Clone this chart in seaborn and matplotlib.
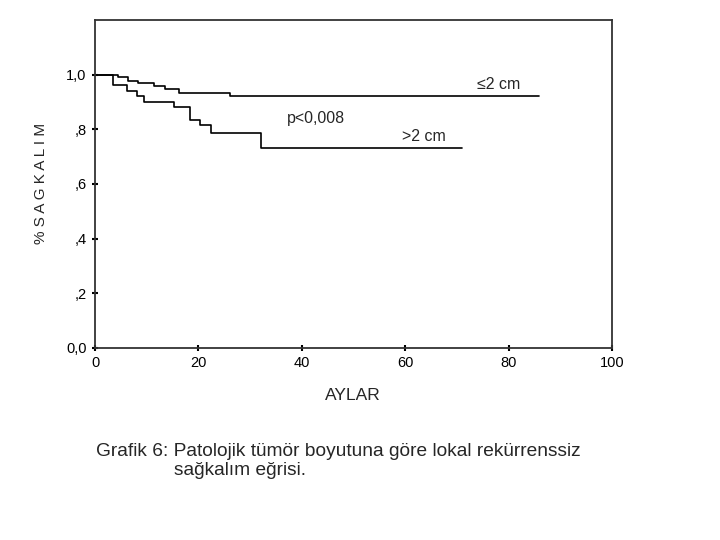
import matplotlib
matplotlib.use("Agg")
import matplotlib.pyplot as plt
import seaborn as sns

# Kaplan-Meier steps (months, survival)
small_months = [0, 4.4, 6.3, 8.4, 11.4, 13.5, 16.2, 26.2, 85.9]
small_surv = [1.0, 0.990, 0.976, 0.969, 0.958, 0.946, 0.934, 0.923, 0.923]
large_months = [0, 3.4, 6.2, 8.2, 9.4, 15.2, 18.3, 20.3, 22.4, 32.1, 70.9]
large_surv = [1.0, 0.961, 0.941, 0.922, 0.901, 0.881, 0.835, 0.814, 0.787, 0.731, 0.731]

x_ticks = [0, 20, 40, 60, 80, 100]
y_ticks = [0.0, 0.2, 0.4, 0.6, 0.8, 1.0]
y_tick_labels = ["0,0", ",2", ",4", ",6", ",8", "1,0"]

sns.set_style("white")
plt.rcParams["font.family"] = ["Liberation Sans", "DejaVu Sans"]

fig = plt.figure(figsize=(7.2, 5.4), dpi=100)
ax = fig.add_axes([0.132, 0.356, 0.718, 0.607])

sns.lineplot(x=small_months, y=small_surv, drawstyle="steps-post",
             color="black", linewidth=1.2, ax=ax)
sns.lineplot(x=large_months, y=large_surv, drawstyle="steps-post",
             color="black", linewidth=1.2, ax=ax)

ax.set_xlim(0, 100)
ax.set_ylim(0, 1.2)
ax.set_xticks(x_ticks)
ax.set_yticks(y_ticks)
ax.set_yticklabels(y_tick_labels)
ax.tick_params(bottom=True, left=True, direction="inout", length=4,
               width=1.5, labelsize=10.5, pad=4, colors="black")
for s in ax.spines.values():
    s.set_color("#333333")
    s.set_linewidth(1.3)

ax.text(73.8, 0.962, "≤2 cm", fontsize=11.5, va="center")
ax.text(37.1, 0.841, "p<0,008", fontsize=11.5, va="center")
ax.text(59.3, 0.775, ">2 cm", fontsize=11.5, va="center")

ax.set_xlabel("")
ax.set_ylabel("")
fig.text(0.057, 0.66, "% S A G K A L I M", rotation=90, fontsize=11,
         ha="center", va="center")
fig.text(0.49, 0.267, "AYLAR", fontsize=12.5, ha="center", va="center")

fig.text(0.134, 0.164, "Grafik 6: Patolojik tümör boyutuna göre lokal rekürrenssiz",
         fontsize=13.8, ha="left", va="center")
fig.text(0.242, 0.129, "sağkalım eğrisi.", fontsize=13.8, ha="left", va="center")

fig.savefig("out.png", dpi=100)
